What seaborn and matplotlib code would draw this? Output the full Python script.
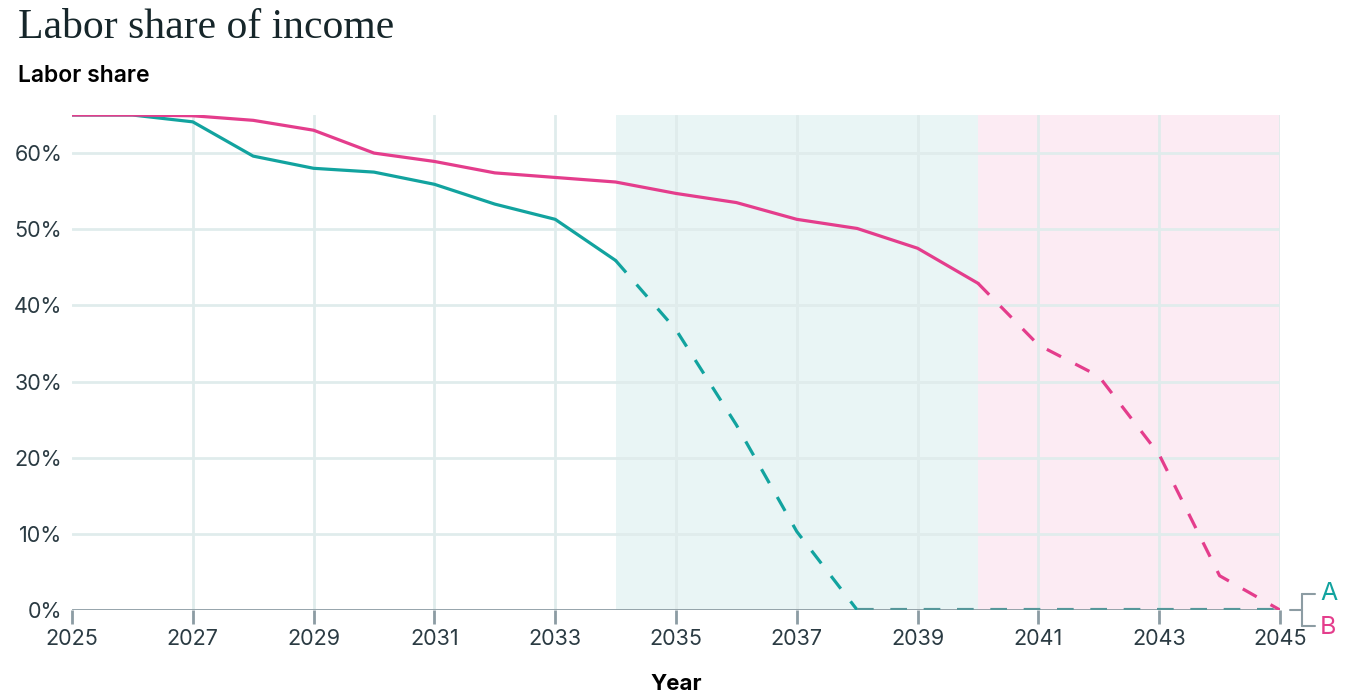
import numpy as np
import pandas as pd
import seaborn as sns
import matplotlib.pyplot as plt
from matplotlib.lines import Line2D

years = list(range(2025, 2046))
share_a = [65.0, 65.0, 64.1, 59.6, 58.0, 57.5, 55.9, 53.3, 51.3, 45.9, 36.8,
           24.3, 10.3, 0.0, 0.0, 0.0, 0.0, 0.0, 0.0, 0.0, 0.0]
share_b = [65.0, 65.0, 64.9, 64.3, 63.0, 60.0, 58.9, 57.4, 56.8, 56.2, 54.7,
           53.5, 51.3, 50.1, 47.5, 42.9, 34.8, 30.7, 20.4, 4.5, 0.0]
# last year with observed (solid) values, then projected (dashed)
split_a = 2034
split_b = 2040
zero_a = 2038
y_ticks = [0, 10, 20, 30, 40, 50, 60]
x_ticks = list(range(2025, 2046, 2))

teal = "#12a39f"
pink = "#e43d8c"
grid_c = "#e0ecec"
axis_c = "#8c9ca3"
text_c = "#2b3b43"

df = pd.DataFrame({"year": years, "A": share_a, "B": share_b})

sns.set_theme(style="white")
plt.rcParams["font.family"] = ["Inter", "DejaVu Sans"]

fig = plt.figure(figsize=(13.5, 6.94), dpi=100)
ax = fig.add_axes([72 / 1350, 1 - 610 / 694, (1280 - 72) / 1350, (610 - 115) / 694])

# shaded projection periods
ax.axvspan(split_a, split_b, color="#e9f5f5", lw=0, zorder=0)
ax.axvspan(split_b, 2045, color="#fcebf3", lw=0, zorder=0)

for t in x_ticks[1:]:
    ax.axvline(t, color=grid_c, lw=2, zorder=1)
for t in y_ticks[1:]:
    ax.axhline(t, color=grid_c, lw=2, zorder=1)

lw = 2.3
sol_a = df[df.year <= split_a]
prj_a = df[(df.year >= split_a) & (df.year <= zero_a)]
flat_a = df[df.year >= zero_a]
sol_b = df[df.year <= split_b]
prj_b = df[df.year >= split_b]

sns.lineplot(data=sol_a, x="year", y="A", color=teal, lw=lw, ax=ax, zorder=4)
sns.lineplot(data=prj_a, x="year", y="A", color=teal, lw=lw, ax=ax, zorder=4,
             linestyle=(0, (5, 5)))
sns.lineplot(data=sol_b, x="year", y="B", color=pink, lw=lw, ax=ax, zorder=4)
sns.lineplot(data=prj_b, x="year", y="B", color=pink, lw=lw, ax=ax, zorder=4,
             linestyle=(0, (5, 5)))
ax.axhline(0, color=axis_c, lw=2, zorder=3)
sns.lineplot(data=flat_a, x="year", y="A", color="#56979a", lw=3, ax=ax, zorder=5,
             linestyle=(0, (4, 4)))

ax.set_xlim(2025, 2045)
ax.set_ylim(0, 65)
ax.set_xticks(x_ticks)
ax.set_xticklabels([str(t) for t in x_ticks])
ax.set_yticks(y_ticks)
ax.set_yticklabels([f"{t}%" for t in y_ticks])
for s in ax.spines.values():
    s.set_visible(False)
ax.tick_params(axis="x", length=10, width=2, color=axis_c, labelsize=15.5,
               labelcolor=text_c, pad=4, bottom=True)
ax.tick_params(axis="y", length=0, labelsize=15.5, labelcolor=text_c, pad=7)
ax.set_xlabel("Year", fontsize=16, fontweight="bold", color="black", labelpad=18)
ax.set_ylabel("")

fig.text(18 / 1350, 1 - 28 / 694, "Labor share of income", fontsize=30,
         family="Liberation Serif", color="#16262a", va="center", ha="left")
fig.text(18 / 1350, 1 - 76 / 694, "Labor share", fontsize=16.5, fontweight="semibold",
         color="black", va="center", ha="left")

# legend bracket
def fx(px):
    return px / 1350

def fy(py):
    return 1 - py / 694

for xs, ys in [([1290, 1302], [610, 610]), ([1302, 1302], [594, 626]),
               ([1302, 1315], [594, 594]), ([1302, 1315], [626, 626])]:
    fig.add_artist(Line2D([fx(v) for v in xs], [fy(v) for v in ys],
                          color=axis_c, lw=1.5))
fig.text(fx(1320), fy(593), "A", color=teal, fontsize=18, va="center", ha="left")
fig.text(fx(1320), fy(627), "B", color=pink, fontsize=18, va="center", ha="left")

fig.savefig("out.png", dpi=100)
